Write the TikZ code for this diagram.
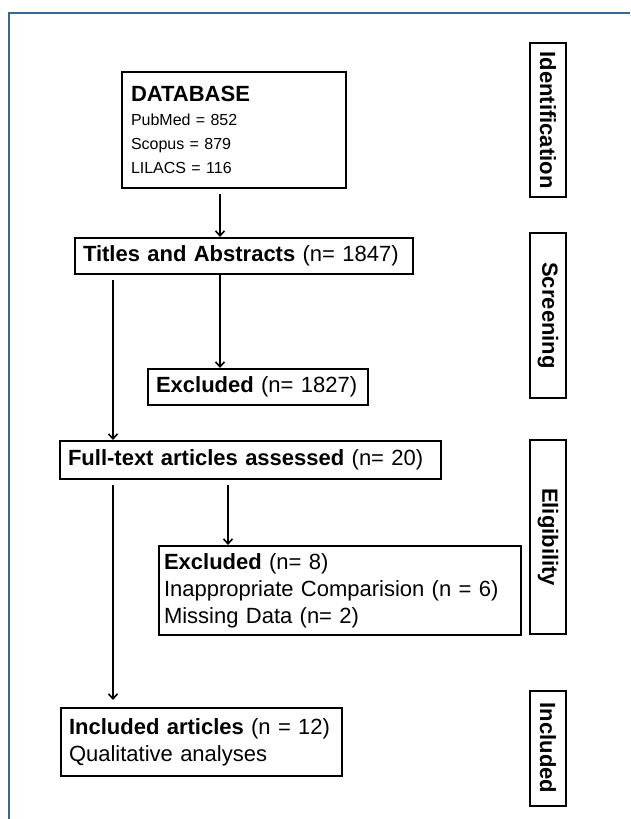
\documentclass[tikz,border=0pt]{standalone}
\usepackage{fontspec}
\setmainfont{Liberation Sans}
\usetikzlibrary{arrows.meta}
\definecolor{framecol}{RGB}{62,100,150}
\begin{document}
\begin{tikzpicture}[x=1pt,y=-1pt,
 box/.style={draw=black,line width=2pt,anchor=north west,inner xsep=8pt,inner ysep=0pt,align=left,font=\fontsize{22}{27}\selectfont},
 side/.style={draw=black,line width=2pt,inner sep=0pt,rotate=-90,minimum height=36pt,font=\bfseries\fontsize{22}{24}\selectfont},
 arr/.style={line width=1.6pt,-{Straight Barb[length=5pt,width=9pt,line width=1.6pt]}}]
\useasboundingbox (0,0) rectangle (630,819);
\draw[framecol,line width=2.5pt] (630,13) -- (9,13) -- (9,819);

\node[box,inner xsep=9pt,text width=206pt,minimum height=116pt,font=\fontsize{16}{24}\selectfont] (db) at (121,71)
  {{\fontsize{22}{25}\selectfont\bfseries DATABASE}\\PubMed = 852\\Scopus = 879\\LILACS = 116};
\node[box,text width=322pt,minimum height=36pt] (ti) at (74,237) {\textbf{Titles and Abstracts} (n= 1847)};
\node[box,text width=204pt,minimum height=36pt] (ex1) at (147,368) {\textbf{Excluded} (n= 1827)};
\node[box,text width=365pt,minimum height=38pt] (ft) at (59,440) {\textbf{Full-text articles assessed} (n= 20)};
\node[box,inner xsep=5pt,text width=352pt,minimum height=89pt] (ex2) at (158,545)
  {\textbf{Excluded} (n= 8)\\Inappropriate Comparision (n = 6)\\Missing Data (n= 2)};
\node[box,text width=265pt,minimum height=68pt] (inc) at (60,707) {\textbf{Included articles} (n = 12)\\Qualitative analyses};

\node[side,minimum width=154pt] (sid) at (548,120) {Identification};
\node[side,minimum width=165pt] (sscr) at (548,315.5) {Screening};
\node[side,minimum width=194pt] (selig) at (548,537) {Eligibility};
\node[side,minimum width=115pt] (sinc) at (548,748) {Included};

\coordinate (xa) at (220,0);
\coordinate (xl) at (113,0);
\coordinate (xb) at (228,0);
\draw[arr,shorten <=5pt] (db.south -| xa) -- (ti.north -| xa);
\draw[arr] (ti.south -| xa) -- (ex1.north -| xa);
\draw[arr,shorten <=5pt] (ti.south -| xl) -- (ft.north -| xl);
\draw[arr,shorten <=5pt] (ft.south -| xb) -- (ex2.north -| xb);
\draw[arr,shorten <=5pt,shorten >=7pt] (ft.south -| xl) -- (inc.north -| xl);
\end{tikzpicture}
\end{document}
